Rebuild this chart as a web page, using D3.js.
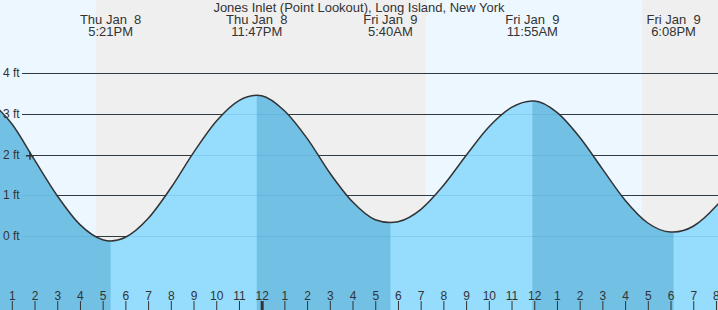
<!DOCTYPE html>
<html>
<head>
<meta charset="utf-8">
<script src="https://cdn.jsdelivr.net/npm/d3@7"></script>
<style>
  html, body { margin: 0; padding: 0; background: #fff; }
  svg { display: block; font-family: "Liberation Sans", Arial, sans-serif; }
</style>
</head>
<body>
<svg id="chart"></svg>
<script>
const WIDTH = 718;
const HEIGHT = 310;

const title = "Jones Inlet (Point Lookout), Long Island, New York";

// hours after midnight, Thu Jan 8 2026
const viewStart = 12.48;
const viewEnd = 44.09;

// hourly water level (ft)
const hourlyHours = [12, 13, 14, 15, 16, 17, 18, 19, 20, 21, 22, 23, 24, 25, 26, 27, 28,
  29, 30, 31, 32, 33, 34, 35, 36, 37, 38, 39, 40, 41, 42, 43, 44, 45];
const hourlyFeet = [3.34, 2.76, 1.87, 0.99, 0.28, -0.09, -0.03, 0.43, 1.18, 2.05, 2.82, 3.33,
  3.45, 3.08, 2.40, 1.55, 0.84, 0.40, 0.35, 0.65, 1.24, 1.98, 2.68, 3.16, 3.32, 3.04,
  2.43, 1.65, 0.88, 0.32, 0.10, 0.24, 0.73, 1.45];

// highs and lows
const extremeHours = [17.35, 23.783, 29.667, 35.917, 42.133];
const extremeFeet = [-0.12, 3.46, 0.33, 3.32, 0.10];
const extremeDays = ["Thu Jan  8", "Thu Jan  8", "Fri Jan  9", "Fri Jan  9", "Fri Jan  9"];
const extremeClock = ["5:21PM", "11:47PM", "5:40AM", "11:55AM", "6:08PM"];

// sunset / sunrise / sunset
const sunHours = [16.70, 31.25, 40.74];

const levelTicks = [0, 1, 2, 3, 4];

// current time marker
const nowHour = 13.8;
const nowFeet = 1.97;

const base = new Date(2026, 0, 8);
const toDate = h => new Date(base.getTime() + h * 3600e3);

const svg = d3.select("#chart").attr("width", WIDTH).attr("height", HEIGHT);

const x = d3.scaleTime()
  .domain([toDate(viewStart), toDate(viewEnd)])
  .range([0, WIDTH]);

const y = d3.scaleLinear()
  .domain([-1.819, 5.802])
  .range([HEIGHT, 0]);

// day / night bands
const bandEdges = [viewStart, ...sunHours, viewEnd];
svg.append("g")
  .selectAll("rect")
  .data(d3.pairs(bandEdges))
  .join("rect")
  .attr("x", d => x(toDate(d[0])))
  .attr("width", d => x(toDate(d[1])) - x(toDate(d[0])))
  .attr("y", 0)
  .attr("height", HEIGHT)
  .attr("fill", (_, i) => (i % 2 ? "#efefef" : "#edf7ff"));

// grid lines (only visible above the water)
const GRID_X0 = 22;
svg.append("g")
  .selectAll("line")
  .data(levelTicks)
  .join("line")
  .attr("x1", GRID_X0)
  .attr("x2", WIDTH)
  .attr("y1", d => Math.round(y(d)) + 0.5)
  .attr("y2", d => Math.round(y(d)) + 0.5)
  .attr("stroke", "#333")
  .attr("stroke-width", 1);

// merged level series
const points = hourlyHours.map((h, i) => ({ t: toDate(h), v: hourlyFeet[i] }))
  .concat(extremeHours.map((h, i) => ({ t: toDate(h), v: extremeFeet[i] })))
  .sort((a, b) => a.t - b.t);

const area = d3.area()
  .curve(d3.curveMonotoneX)
  .x(d => x(d.t))
  .y0(HEIGHT)
  .y1(d => y(d.v));

const line = d3.line()
  .curve(d3.curveMonotoneX)
  .x(d => x(d.t))
  .y(d => y(d.v));

// rising water (light)
svg.append("path")
  .datum(points)
  .attr("d", area)
  .attr("fill", "#95dcfd");

// falling water (dark), high -> low
const segEdges = [viewStart, ...extremeHours, viewEnd];
const falling = d3.pairs(segEdges).filter((_, i) => i % 2 === 0);
const defs = svg.append("defs");
falling.forEach((seg, i) => {
  defs.append("clipPath")
    .attr("id", "fall" + i)
    .append("rect")
    .attr("x", x(toDate(seg[0])))
    .attr("width", x(toDate(seg[1])) - x(toDate(seg[0])))
    .attr("y", 0)
    .attr("height", HEIGHT);
  svg.append("path")
    .datum(points)
    .attr("d", area)
    .attr("clip-path", `url(#fall${i})`)
    .attr("fill", "#72c0e4");
});

// grid lines seen through the water
svg.append("g")
  .selectAll("line")
  .data(levelTicks)
  .join("line")
  .attr("x1", GRID_X0)
  .attr("x2", WIDTH)
  .attr("y1", d => Math.round(y(d)) + 0.5)
  .attr("y2", d => Math.round(y(d)) + 0.5)
  .attr("stroke", "rgba(20,110,170,0.13)")
  .attr("stroke-width", 1);

// level curve
svg.append("path")
  .datum(points)
  .attr("d", line)
  .attr("fill", "none")
  .attr("stroke", "#333")
  .attr("stroke-width", 1.5);

// level labels
svg.append("g")
  .selectAll("text")
  .data(levelTicks)
  .join("text")
  .attr("x", 3)
  .attr("y", d => y(d) + 4)
  .attr("font-size", 12)
  .attr("fill", "#333")
  .text(d => d + " ft");

// now marker
svg.append("path")
  .attr("transform", `translate(${x(toDate(nowHour))},${y(nowFeet)})`)
  .attr("d", "M-4,0H4M0,-4V4")
  .attr("stroke", "#333")
  .attr("stroke-width", 1.5);

// hour axis
const axis = svg.append("g")
  .attr("transform", `translate(0,${HEIGHT})`)
  .call(d3.axisTop(x)
    .ticks(d3.timeHour.every(1))
    .tickFormat(d3.timeFormat("%-I"))
    .tickSize(9)
    .tickPadding(1));
axis.select(".domain").remove();
axis.selectAll("text")
  .attr("font-size", 12)
  .attr("font-family", "Liberation Sans, Arial, sans-serif")
  .attr("fill", "#333");
axis.selectAll("line").attr("stroke", "#333");
axis.selectAll(".tick")
  .filter(d => d.getHours() === 0)
  .select("line")
  .attr("stroke-width", 3);

// title
svg.append("text")
  .attr("x", WIDTH / 2)
  .attr("y", 12)
  .attr("text-anchor", "middle")
  .attr("font-size", 13)
  .attr("fill", "#333")
  .text(title);

// high / low labels
const labels = svg.append("g")
  .selectAll("text")
  .data(extremeHours)
  .join("text")
  .attr("text-anchor", "middle")
  .attr("font-size", 13)
  .attr("fill", "#333")
  .style("white-space", "pre");
labels.append("tspan")
  .attr("x", d => x(toDate(d)))
  .attr("y", 24)
  .text((_, i) => extremeDays[i]);
labels.append("tspan")
  .attr("x", d => x(toDate(d)))
  .attr("y", 36)
  .text((_, i) => extremeClock[i]);
</script>
</body>
</html>
